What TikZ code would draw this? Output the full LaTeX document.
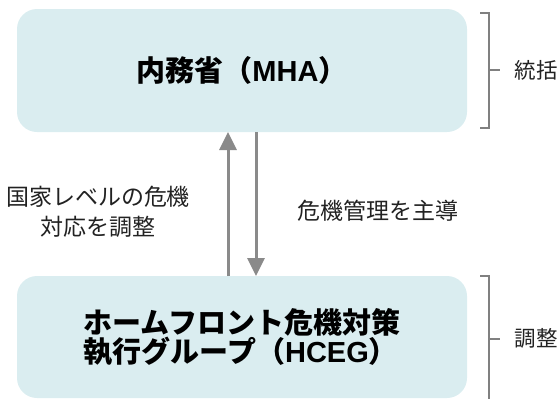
\documentclass[tikz,border=0pt]{standalone}
\usepackage{fontspec}
\setmainfont{Noto Sans CJK JP}
\newfontfamily\latinfont{Liberation Sans}
\usetikzlibrary{arrows.meta}
\definecolor{boxfill}{HTML}{DAEDF0}
\definecolor{linegray}{HTML}{8A8A8A}
\definecolor{brgray}{HTML}{808080}
\definecolor{labeltext}{HTML}{222222}
\tikzset{
  box/.style={fill=boxfill, draw=none, rounded corners=20pt, minimum width=450pt, inner sep=0pt, outer sep=0pt, align=left, font=\fontsize{29}{29.5}\selectfont\bfseries},
  arr/.style={draw=linegray, line width=3pt, -{Triangle[width=17pt,length=18pt]}},
  brace/.style={draw=brgray, line width=2pt},
  lbl/.style={text=labeltext, inner sep=0pt, align=center, font=\fontsize{23}{30}\selectfont},
  sidelbl/.style={text=labeltext, inner sep=0pt, font=\fontsize{21.5}{30}\selectfont},
}
\begin{document}
\begin{tikzpicture}[x=1pt,y=-1pt]
\useasboundingbox (0,0) rectangle (560,399);
\node[box, minimum height=123pt] (mha) at (242,70.5) {内務省（{\latinfont MHA}）};
\node[box, minimum height=122pt] (hceg) at (242,337) {ホームフロント危機対策\\執行グループ（{\latinfont HCEG}）};
\coordinate (ux) at (228,0);
\coordinate (dx) at (256,0);
\draw[arr] (hceg.north -| ux) -- (mha.south -| ux);
\draw[arr] (mha.south -| dx) -- (hceg.north -| dx);
\node[lbl] (l1) at (98,212) {国家レベルの危機\\対応を調整};
\node[lbl] (l2) at (378,211) {危機管理を主導};
% brackets
\coordinate (b1a) at (480,13);
\coordinate (b1b) at (489,13);
\coordinate (b1c) at (489,128);
\coordinate (b1d) at (480,128);
\coordinate (b1m) at (489,70);
\coordinate (b1t) at (500,70);
\draw[brace] (b1a) -- (b1b) -- (b1c) -- (b1d);
\draw[brace] (b1m) -- (b1t);
\node[sidelbl, anchor=west] (t1) at (514.5,70) {統括};
\coordinate (b2a) at (480,276);
\coordinate (b2b) at (489,276);
\coordinate (b2c) at (489,402);
\coordinate (b2m) at (489,339);
\coordinate (b2t) at (500,339);
\draw[brace] (b2a) -- (b2b) -- (b2c);
\draw[brace] (b2m) -- (b2t);
\node[sidelbl, anchor=west] (t2) at (514.5,338) {調整};
\end{tikzpicture}
\end{document}
